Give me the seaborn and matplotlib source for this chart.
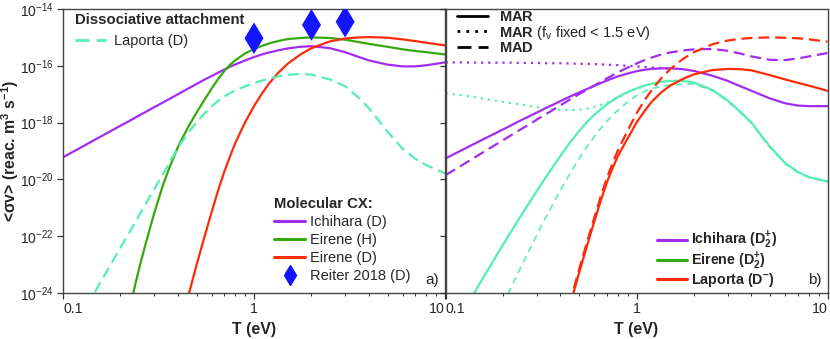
import numpy as np
import pandas as pd
import seaborn as sns
import matplotlib.pyplot as plt
from matplotlib.lines import Line2D
from matplotlib.ticker import NullLocator, LogLocator, NullFormatter

sns.set_theme(style="ticks")
plt.rcParams['font.family'] = ['Liberation Sans', 'DejaVu Sans']
plt.rcParams['mathtext.fontset'] = 'custom'
plt.rcParams['mathtext.rm'] = 'Liberation Sans'
plt.rcParams['mathtext.bf'] = 'Liberation Sans:bold'
plt.rcParams['mathtext.it'] = 'Liberation Sans:italic'

# temperature grid (eV); series are log10 of <sigma v> in m^3/s
T_eV = [0.1, 0.12, 0.15, 0.2, 0.22, 0.25, 0.27, 0.3, 0.33, 0.36, 0.4, 0.45, 0.5, 0.55,
        0.6, 0.65, 0.7, 0.75, 0.8, 0.9, 1, 1.1, 1.2, 1.35, 1.5, 1.75, 2, 2.5, 3, 3.5,
        4, 5, 6, 7, 8, 10]
nan = np.nan

# (a) molecular CX + dissociative attachment
cx_ichihara_D = [-19.22, -18.93, -18.57, -18.11, -17.96, -17.75, -17.63, -17.46, -17.31, -17.17,
                 -17.0, -16.81, -16.64, -16.49, -16.36, -16.24, -16.13, -16.03, -15.95, -15.81,
                 -15.69, -15.6, -15.53, -15.45, -15.39, -15.33, -15.31, -15.38, -15.52, -15.68,
                 -15.81, -15.96, -16.02, -16.02, -15.98, -15.88]
cx_eirene_H = [nan, nan, nan, -25.95, -24.72, -23.15, -22.3, -21.2, -20.3, -19.6,
               -18.85, -18.18, -17.65, -17.2, -16.8, -16.46, -16.18, -15.96, -15.8, -15.56,
               -15.41, -15.3, -15.21, -15.12, -15.06, -15.02, -15.0, -15.02, -15.08, -15.16,
               -15.23, -15.33, -15.42, -15.48, -15.52, -15.6]
cx_eirene_D = [nan, nan, nan, nan, nan, nan, nan, nan, nan, nan,
               -25.56, -24.18, -23.02, -22.03, -21.15, -20.37, -19.72, -19.18, -18.7, -17.98,
               -17.42, -16.98, -16.62, -16.22, -15.93, -15.6, -15.38, -15.14, -15.04, -15.0,
               -14.99, -15.01, -15.07, -15.13, -15.19, -15.28]
da_laporta_D = [nan, -25.0, -23.86, -22.4, -21.92, -21.27, -20.88, -20.35, -19.87, -19.42,
                -18.88, -18.38, -18.0, -17.68, -17.43, -17.23, -17.08, -16.96, -16.86, -16.72,
                -16.61, -16.52, -16.45, -16.37, -16.32, -16.29, -16.31, -16.48, -16.72, -17.1,
                -17.5, -18.32, -18.92, -19.28, -19.5, -19.79]
reiter_T = [1, 2, 3]
reiter_D = [-15.03, -14.56, -14.45]

# (b) MAR / MAD
mar_ichihara = [-19.26, -18.99, -18.66, -18.24, -18.1, -17.91, -17.8, -17.65, -17.51, -17.39,
                -17.24, -17.08, -16.94, -16.82, -16.71, -16.61, -16.52, -16.44, -16.37, -16.27,
                -16.19, -16.14, -16.11, -16.09, -16.09, -16.12, -16.18, -16.35, -16.53, -16.72,
                -16.88, -17.15, -17.32, -17.4, -17.42, -17.42]
marfix_ichihara = [-15.88, -15.88, -15.89, -15.89, -15.89, -15.9, -15.9, -15.9, -15.91, -15.91,
                   -15.91, -15.92, -15.93, -15.93, -15.94, -15.95, -15.96, -15.97, -15.98, -16.0,
                   -16.02, -16.04, -16.06, -16.08, -16.09, nan, nan, nan, nan, nan,
                   nan, nan, nan, nan, nan, nan]
mad_ichihara = [-19.85, -19.53, -19.13, -18.62, -18.45, -18.22, -18.09, -17.9, -17.73, -17.58,
                -17.39, -17.18, -17.0, -16.84, -16.7, -16.56, -16.44, -16.33, -16.23, -16.06,
                -15.92, -15.8, -15.71, -15.6, -15.53, -15.46, -15.42, -15.41, -15.47, -15.57,
                -15.67, -15.79, -15.8, -15.74, -15.67, -15.55]
mar_eirene = [nan, -24.82, -23.7, -22.3, -21.85, -21.25, -20.9, -20.42, -19.99, -19.62,
              -19.17, -18.69, -18.3, -17.98, -17.73, -17.53, -17.36, -17.22, -17.1, -16.92,
              -16.8, -16.7, -16.63, -16.56, -16.53, -16.53, -16.59, -16.85, -17.22, -17.62,
              -18.0, -18.85, -19.42, -19.74, -19.92, -20.07]
marfix_eirene = [-16.97, -17.03, -17.13, -17.27, -17.31, -17.37, -17.41, -17.45, -17.49, -17.52,
                 -17.55, -17.56, -17.55, -17.51, -17.45, -17.38, -17.3, -17.22, -17.12, -16.94,
                 -16.8, nan, nan, nan, nan, nan, nan, nan, nan, nan,
                 nan, nan, nan, nan, nan, nan]
mad_eirene = [nan, nan, nan, -24.4, -23.82, -23.04, -22.59, -21.97, -21.42, -20.95,
              -20.38, -19.78, -19.27, -18.85, -18.5, -18.2, -17.95, -17.74, -17.56, -17.27,
              -17.05, -16.9, -16.8, -16.72, -16.68, -16.65, -16.64, -16.88, -17.25, -17.65,
              -18.03, -18.88, -19.45, -19.76, -19.94, -20.09]
mar_laporta = [nan, nan, nan, nan, nan, nan, nan, nan, nan, nan,
               -25.65, -24.4, -23.3, -22.35, -21.5, -20.75, -20.1, -19.6, -19.17, -18.55,
               -18.0, -17.6, -17.27, -16.93, -16.7, -16.46, -16.3, -16.15, -16.11, -16.12,
               -16.16, -16.33, -16.48, -16.6, -16.7, -16.88]
mad_laporta = [nan, nan, nan, nan, nan, nan, nan, nan, nan, nan,
               -25.55, -24.3, -23.18, -22.22, -21.37, -20.6, -19.95, -19.42, -18.97, -18.27,
               -17.68, -17.22, -16.86, -16.43, -16.12, -15.76, -15.52, -15.24, -15.11, -15.05,
               -15.02, -15.0, -15.01, -15.03, -15.07, -15.15]

purple = '#a22cf2'
green = '#34aa0c'
red = '#ff2a0a'
aqua = '#55efb2'
blue = '#1414ff'


def curve(ax, vals, color, ls='-', lw=1.6):
    df = pd.DataFrame({'T': T_eV, 'rate': 10.0 ** np.array(vals, dtype=float)}).dropna()
    sns.lineplot(data=df, x='T', y='rate', ax=ax, color=color, linestyle=ls, lw=lw,
                 estimator=None, sort=True, legend=False)


fig = plt.figure(figsize=(8.3, 3.39), dpi=100)
ax_a = fig.add_axes([63 / 830, 46 / 339, 382 / 830, 284 / 339])
ax_b = fig.add_axes([445.5 / 830, 46 / 339, 382 / 830, 284 / 339])

for ax in (ax_a, ax_b):
    ax.set_xscale('log')
    ax.set_yscale('log')

dash = (0, (5, 2.6))
dot = (0, (1, 2.2))

curve(ax_a, cx_ichihara_D, purple)
curve(ax_a, cx_eirene_H, green)
curve(ax_a, cx_eirene_D, red)
curve(ax_a, da_laporta_D, aqua, dash)
sns.scatterplot(x=reiter_T, y=10.0 ** np.array(reiter_D), ax=ax_a, marker='d', s=260,
                color=blue, edgecolor='none', legend=False, zorder=5)

curve(ax_b, marfix_ichihara, purple, dot)
curve(ax_b, marfix_eirene, aqua, dot)
curve(ax_b, mad_eirene, aqua, (0, (4, 3)), lw=1.2)
curve(ax_b, mar_ichihara, purple)
curve(ax_b, mar_eirene, aqua)
curve(ax_b, mar_laporta, red)
curve(ax_b, mad_ichihara, purple, dash)
curve(ax_b, mad_laporta, red, dash)

for ax in (ax_a, ax_b):
    ax.set_xlim(0.1, 10)
    ax.set_ylim(1e-24, 1e-14)
    ax.set_xticks([0.1, 1, 10], labels=['0.1', '1', '10'])
    ax.xaxis.set_minor_locator(LogLocator(base=10, subs=np.arange(2, 10)))
    ax.xaxis.set_minor_formatter(NullFormatter())
    ax.set_yticks([1e-24, 1e-22, 1e-20, 1e-18, 1e-16, 1e-14])
    ax.yaxis.set_minor_locator(NullLocator())
    ax.tick_params(which='major', length=4, width=0.9, direction='out', labelsize=10.2,
                   color='#333333', pad=2.5)
    ax.tick_params(which='minor', length=2.2, width=0.7, direction='out', color='#333333')
    for sp in ax.spines.values():
        sp.set_visible(True)
        sp.set_linewidth(1.0)
        sp.set_color('#444444')
    ax.set_xlabel('T (eV)', fontweight='bold', fontsize=11.5, labelpad=4)
    xl = ax.get_xticklabels()
    xl[0].set_ha('left')
    xl[-1].set_ha('right')

ax_b.set_ylabel('')
ax_b.tick_params(axis='y', labelleft=False)
ax_a.tick_params(axis='y', labelsize=10)
ax_a.set_ylabel('<σv> (reac. m$^\\mathbf{3}$ s$^\\mathbf{-1}$)', fontweight='bold',
                fontsize=11.3)
ax_a.yaxis.set_label_coords(-0.11, 0.5)

ax_a.text(0.985, 0.02, 'a)', transform=ax_a.transAxes, ha='right', va='bottom', fontsize=11)
ax_b.text(0.985, 0.02, 'b)', transform=ax_b.transAxes, ha='right', va='bottom', fontsize=11)

leg_kw = dict(frameon=False, borderpad=0, borderaxespad=0, alignment='left',
              handlelength=2.1)

h_da = [Line2D([], [], color=aqua, lw=2, linestyle=dash)]
leg1 = ax_a.legend(h_da, ['Laporta (D)'], loc='upper left', bbox_to_anchor=(0.032, 0.985),
                   title='Dissociative attachment', handletextpad=0.55, fontsize=10.5,
                   labelspacing=0.28,
                   title_fontproperties={'weight': 'bold', 'size': 10.7}, **leg_kw)
leg1._legend_box.sep = 5
ax_a.add_artist(leg1)

h_cx = [Line2D([], [], color=purple, lw=2.2), Line2D([], [], color=green, lw=2.2),
        Line2D([], [], color=red, lw=2.2),
        Line2D([], [], color=blue, marker='d', markersize=10, lw=0)]
ax_a.legend(h_cx, ['Ichihara (D)', 'Eirene (H)', 'Eirene (D)', 'Reiter 2018 (D)'],
            loc='upper left', bbox_to_anchor=(0.553, 0.338), title='Molecular CX:',
            handletextpad=0.35, fontsize=10.5, labelspacing=0.28,
            title_fontproperties={'weight': 'bold', 'size': 10.7}, **leg_kw)

h_ls = [Line2D([], [], color='black', lw=2), Line2D([], [], color='black', lw=2, linestyle=dot),
        Line2D([], [], color='black', lw=2, linestyle=dash)]
leg3 = ax_b.legend(h_ls, [r'$\mathbf{MAR}$', r'$\mathbf{MAR}$ (f$_\mathrm{v}$ fixed < 1.5 eV)',
                          r'$\mathbf{MAD}$'],
                   loc='upper left', bbox_to_anchor=(0.03, 0.995), handletextpad=0.75,
                   fontsize=10.5, labelspacing=-0.06, **leg_kw)
ax_b.add_artist(leg3)

h_sp = [Line2D([], [], color=purple, lw=2.2), Line2D([], [], color=green, lw=2.2),
        Line2D([], [], color=red, lw=2.2)]
ax_b.legend(h_sp, ['Ichihara (D$_\\mathbf{2}^\\mathbf{+}$)', 'Eirene (D$_\\mathbf{2}^\\mathbf{+}$)',
                   'Laporta (D$^\\mathbf{-}$)'],
            loc='upper left', bbox_to_anchor=(0.553, 0.222), handletextpad=0.3,
            labelspacing=-0.05, prop={'weight': 'bold', 'size': 10.3}, **leg_kw)

plt.savefig('out.png', dpi=100)
